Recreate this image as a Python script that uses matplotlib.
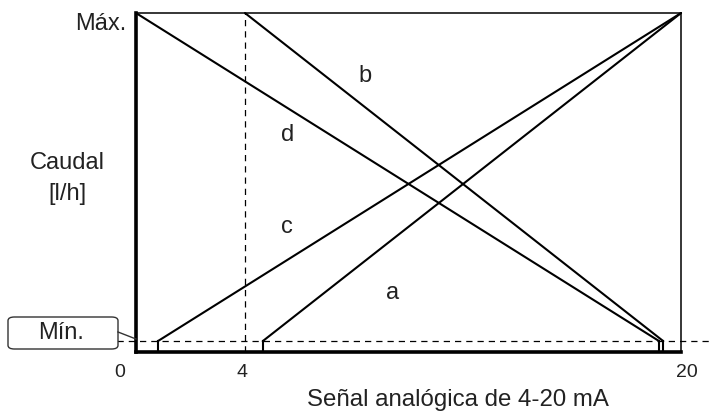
"""Flow vs 4-20 mA analog signal diagram."""

import matplotlib

matplotlib.use("Agg")
import matplotlib.pyplot as plt
from matplotlib.patches import FancyBboxPatch

plt.rcParams["font.family"] = ["Liberation Sans", "DejaVu Sans"]

# values
Y_MIN = 3.2
Y_MAX = 100.0
X_SIGNAL = 4.0

line_names = ["a", "b", "c", "d"]
line_x = {"a": [4.65, 20.0], "b": [4.0, 19.35], "c": [0.8, 20.0], "d": [0.0, 19.2]}
line_y = {"a": [Y_MIN, Y_MAX], "b": [Y_MAX, Y_MIN], "c": [Y_MIN, Y_MAX], "d": [Y_MAX, Y_MIN]}
label_pos = {"a": (9.4, 17.5), "b": (8.4, 81.5), "c": (5.55, 37), "d": (5.55, 64)}

tick_values = [0, 4, 20]
tick_labels = ["0", "4", "20"]
tick_offsets = [-0.6, -0.1, 0.2]


def main() -> None:
    W, H = 712, 412
    fig = plt.figure(figsize=(W / 100, H / 100), dpi=100)
    ax = fig.add_axes([0.191, 0.1456, 0.7655, 0.8228])
    ax.set_xlim(0, 20)
    ax.set_ylim(0, 100)
    ax.set_xticks([])
    ax.set_yticks([])

    for side in ("left", "bottom"):
        ax.spines[side].set_linewidth(2.6)
    for side in ("top", "right"):
        ax.spines[side].set_linewidth(1.1)

    # reference lines
    ax.plot([X_SIGNAL, X_SIGNAL], [0, Y_MAX], color="black", lw=0.9, ls=(0, (5, 4)))
    ax.plot([-0.7, 21.2], [Y_MIN, Y_MIN], color="black", lw=0.9, ls=(0, (5, 4)),
            clip_on=False)

    for name in line_names:
        xs, ys = line_x[name], line_y[name]
        ax.plot(xs, ys, color="black", lw=1.5, solid_capstyle="round", clip_on=False)
        # short vertical stub from the floor up to the minimum
        x_low = xs[0] if ys[0] == Y_MIN else xs[1]
        ax.plot([x_low, x_low], [0, Y_MIN], color="black", lw=1.5)
        lx, ly = label_pos[name]
        ax.text(lx, ly, name, fontsize=17, ha="center", va="center", color="#222222")

    for val, lab, off in zip(tick_values, tick_labels, tick_offsets):
        ax.text(val + off, -3.5, lab, fontsize=14, ha="center", va="top", color="#222222")

    fig.text(458 / W, (H - 406) / H, "Señal analógica de 4-20 mA", fontsize=17.3,
             ha="center", va="baseline", color="#222222")
    fig.text(67 / W, (H - 163) / H, "Caudal", fontsize=17, ha="center", va="center",
             color="#222222")
    fig.text(67 / W, (H - 194) / H, "[l/h]", fontsize=17, ha="center", va="center",
             color="#222222")
    fig.text(126 / W, (H - 24) / H, "Máx.", fontsize=17, ha="right", va="center",
             color="#222222")

    # "Mín." callout box
    box = FancyBboxPatch((8 / W, (H - 349) / H), 110 / W, 32 / H,
                         boxstyle="round,pad=0,rounding_size=0.009",
                         transform=fig.transFigure, facecolor="white",
                         edgecolor="#333333", lw=1.0)
    fig.add_artist(box)
    fig.text(61 / W, (H - 333) / H, "Mín.", fontsize=17, ha="center", va="center",
             color="#222222")
    fig.add_artist(plt.Line2D([118 / W, 136 / W], [(H - 332) / H, (H - 339) / H],
                              transform=fig.transFigure, color="#333333", lw=1.0))

    fig.savefig("out.png", dpi=100)
    plt.close(fig)


if __name__ == "__main__":
    main()
